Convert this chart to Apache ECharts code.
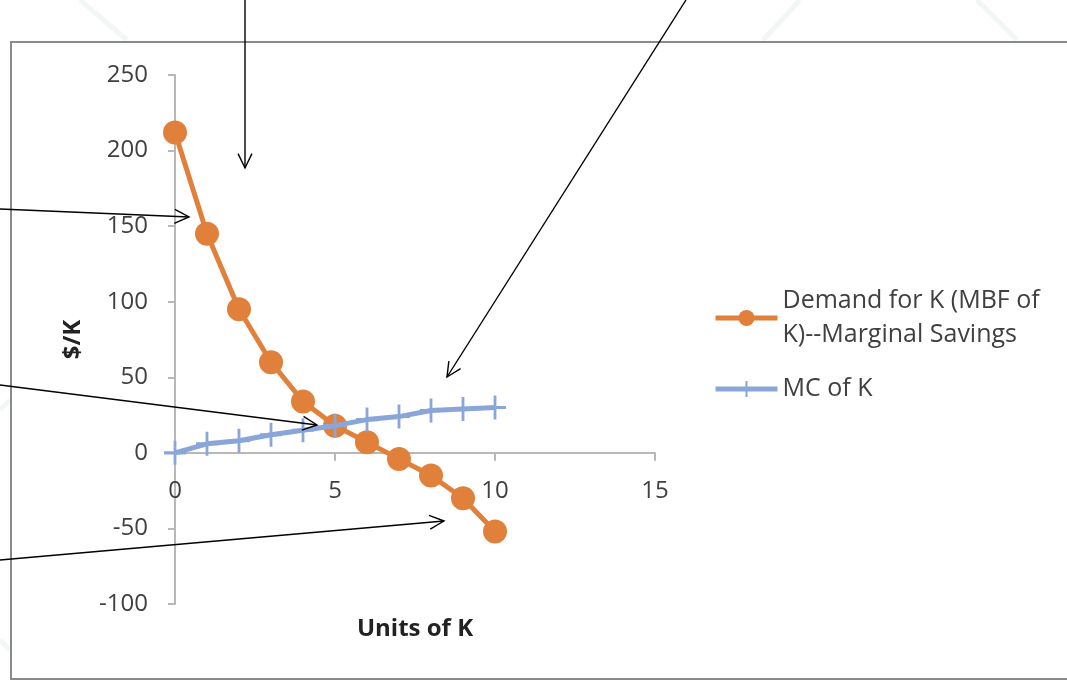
<!DOCTYPE html>
<html>
<head>
<meta charset="utf-8">
<script src="https://cdn.jsdelivr.net/npm/echarts@6/dist/echarts.min.js"></script>
<style>
  html, body { margin: 0; padding: 0; background: #ffffff; }
  #chart { width: 1067px; height: 682px; }
</style>
</head>
<body>
<div id="chart"></div>
<script>
// Units of capital K on the horizontal axis
const units = [0, 1, 2, 3, 4, 5, 6, 7, 8, 9, 10];
// Marginal benefit of K (marginal savings), $/K
const demandK = [212, 145, 95, 60, 34, 18, 7, -4, -15, -30, -52];
// Marginal cost of K, $/K
const mcK = [0, 6, 8, 12, 15, 18, 22, 24, 28, 29, 30];

const demandName = 'Demand for K (MBF of\nK)--Marginal Savings';
const mcName = 'MC of K';

// Value-axis ranges
const xRange = { min: 0, max: 15, interval: 5 };
const yRange = { min: -100, max: 250, interval: 50 };

// Hand-drawn pointer arrows laid over the figure: [x1, y1, x2 (tip), y2 (tip)] in px
const pointers = [
  [245, 0, 245, 168],
  [0, 209, 189, 217],
  [0, 385, 317, 425],
  [0, 560, 444, 521],
  [686, 0, 447, 377]
];

// Faint background strokes behind the chart frame
const faintStrokes = [
  [80, 0, 127, 40],
  [800, 0, 763, 40],
  [977, 0, 1017, 40],
  [0, 410, 10, 400],
  [0, 640, 10, 650]
];

const FONT = '"Open Sans", Lato, sans-serif';
const TXT = '#404040';
const ORANGE = '#e0803a';
const BLUE = '#8aa6d8';

const GRID = { left: 175, right: 412, top: 75, bottom: 78 };
const plotHeight = 682 - GRID.top - GRID.bottom;
// Shift the horizontal axis (line, ticks, labels, title) up to y = 0
const xAxisOffset = -plotHeight * (0 - yRange.min) / (yRange.max - yRange.min);

function arrowGraphics() {
  const out = [];
  pointers.forEach(function (p) {
    const x1 = p[0], y1 = p[1], x2 = p[2], y2 = p[3];
    const ang = Math.atan2(y2 - y1, x2 - x1);
    const len = 16, spread = Math.PI / 7;
    const a1 = [x2 - len * Math.cos(ang - spread), y2 - len * Math.sin(ang - spread)];
    const a2 = [x2 - len * Math.cos(ang + spread), y2 - len * Math.sin(ang + spread)];
    out.push({
      type: 'line', z: 100,
      shape: { x1: x1, y1: y1, x2: x2, y2: y2 },
      style: { stroke: '#000', lineWidth: 1.4 }
    });
    out.push({
      type: 'polyline', z: 100,
      shape: { points: [a1, [x2, y2], a2] },
      style: { stroke: '#000', lineWidth: 1.4, fill: null }
    });
  });
  return out;
}

const chart = echarts.init(document.getElementById('chart'), null, { renderer: 'canvas' });

// Plus-shaped marker for the marginal cost series
const plusSymbol = 'path://M9.6,0H12.4V22H9.6ZM0,9.6H22V12.4H0Z';

chart.setOption({
  backgroundColor: '#ffffff',
  animation: false,
  textStyle: { fontFamily: FONT },
  graphic: [
    ...faintStrokes.map(function (s) {
      return {
        type: 'line', z: -10,
        shape: { x1: s[0], y1: s[1], x2: s[2], y2: s[3] },
        style: { stroke: '#f2f6f4', lineWidth: 5 }
      };
    }),
    {
      type: 'rect', z: -5,
      shape: { x: 11, y: 42, width: 1080, height: 637 },
      style: { fill: '#ffffff', stroke: '#8a8a8a', lineWidth: 2 }
    },
    ...arrowGraphics()
  ],
  grid: {
    left: GRID.left, right: GRID.right, top: GRID.top, bottom: GRID.bottom,
    containLabel: false,
    outerBoundsMode: 'none'
  },
  legend: {
    left: 713, top: 284,
    padding: 0,
    orient: 'vertical',
    itemWidth: 62, itemHeight: 20,
    itemGap: 20,
    textStyle: { fontFamily: FONT, fontSize: 25, color: TXT, lineHeight: 34 },
    data: [
      { name: demandName, lineStyle: { width: 5, color: ORANGE } },
      { name: mcName, lineStyle: { width: 5, color: BLUE } }
    ]
  },
  xAxis: {
    type: 'value',
    min: xRange.min, max: xRange.max, interval: xRange.interval,
    offset: xAxisOffset,
    name: 'Units of K',
    nameLocation: 'middle',
    nameGap: 164,
    nameTextStyle: { fontFamily: FONT, fontSize: 24, fontWeight: 'bold', color: '#222' },
    axisLine: { onZero: false, lineStyle: { color: '#b8b8b8', width: 2 } },
    axisTick: { show: true, length: 8, lineStyle: { color: '#b8b8b8', width: 2 } },
    axisLabel: { fontFamily: FONT, fontSize: 24, color: TXT, margin: 26 },
    splitLine: { show: false }
  },
  yAxis: {
    type: 'value',
    min: yRange.min, max: yRange.max, interval: yRange.interval,
    name: '$/K',
    nameLocation: 'middle',
    nameGap: 90,
    nameRotate: 90,
    nameTextStyle: { fontFamily: FONT, fontSize: 24, fontWeight: 'bold', color: '#222' },
    axisLine: { show: true, onZero: false, lineStyle: { color: '#b8b8b8', width: 2 } },
    axisTick: { show: true, length: 7, lineStyle: { color: '#b8b8b8', width: 2 } },
    axisLabel: { fontFamily: FONT, fontSize: 24, color: TXT, margin: 27 },
    splitLine: { show: false }
  },
  series: [
    {
      name: demandName,
      type: 'line',
      data: units.map(function (u, i) { return [u, demandK[i]]; }),
      symbol: 'circle',
      symbolSize: 24,
      lineStyle: { color: ORANGE, width: 5 },
      itemStyle: { color: ORANGE },
      z: 3
    },
    {
      name: mcName,
      type: 'line',
      data: units.map(function (u, i) { return [u, mcK[i]]; }),
      symbol: plusSymbol,
      symbolSize: [22, 24],
      lineStyle: { color: BLUE, width: 5 },
      itemStyle: { color: BLUE },
      z: 4
    }
  ]
});
</script>
</body>
</html>
